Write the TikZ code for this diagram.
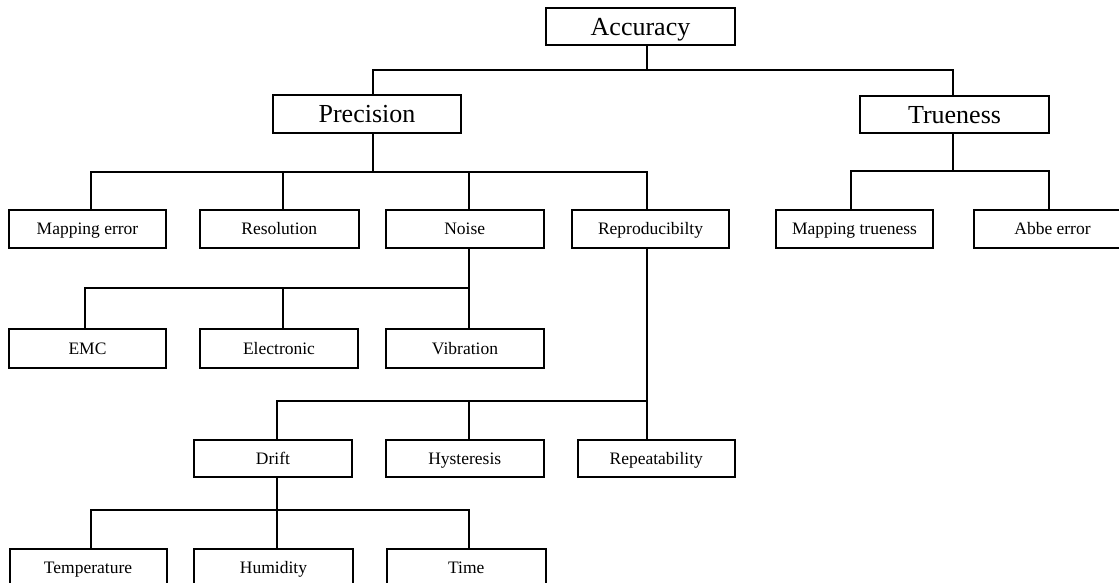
\documentclass[tikz,border=0pt]{standalone}
\usepackage{fontspec}
\setmainfont{Liberation Serif}
\begin{document}
\begin{tikzpicture}[x=1pt,y=-1pt,
  line width=2pt, line join=miter,
  box/.style={draw, line width=2pt, inner sep=0pt, anchor=north west, align=center, text depth=0pt},
  bigbox/.style={box, font=\fontsize{26}{30}\selectfont, text height=17.2pt},
  smallbox/.style={box, font=\fontsize{17.5}{20}\selectfont, minimum height=38, text height=11.6pt}]
\useasboundingbox (0,0) rectangle (1119,582);
% level 1-2
\node[bigbox, minimum width=189, minimum height=37] (acc) at (545,7) {Accuracy};
\node[bigbox, minimum width=188, minimum height=38] (prec) at (272,94) {Precision};
\node[bigbox, minimum width=189, minimum height=37] (true) at (859,95) {Trueness};
% level 3
\node[smallbox, minimum width=157] (map) at (8,209) {Mapping error};
\node[smallbox, minimum width=158.5] (res) at (199,209) {Resolution};
\node[smallbox, minimum width=158.5] (noise) at (384.5,209) {Noise};
\node[smallbox, minimum width=157] (repro) at (571,209) {Reproducibilty};
\node[smallbox, minimum width=157] (mapt) at (775,209) {Mapping trueness};
\node[smallbox, minimum width=157] (abbe) at (973,209) {Abbe error};
% noise children
\node[smallbox, minimum width=157, minimum height=39] (emc) at (8,328) {EMC};
\node[smallbox, minimum width=158, minimum height=39] (elec) at (199,328) {Electronic};
\node[smallbox, minimum width=158, minimum height=39] (vib) at (385,328) {Vibration};
% reproducibility children
\node[smallbox, minimum width=158, minimum height=36.5] (drift) at (193,439) {Drift};
\node[smallbox, minimum width=158.5, minimum height=36.5] (hyst) at (384.5,439) {Hysteresis};
\node[smallbox, minimum width=156.5, minimum height=36.5] (rept) at (577,439) {Repeatability};
% drift children
\node[smallbox, minimum width=157] (temp) at (8.5,548) {Temperature};
\node[smallbox, minimum width=159] (hum) at (193,548) {Humidity};
\node[smallbox, minimum width=159.5] (time) at (385.5,548) {Time};
% stem x positions and bar y positions
\coordinate (xA) at (647,0);
\coordinate (xP) at (373,0);
\coordinate (xT) at (953,0);
\coordinate (x91) at (91,0);
\coordinate (x85) at (85,0);
\coordinate (x283) at (283,0);
\coordinate (x469) at (469,0);
\coordinate (x277) at (277,0);
\coordinate (x851) at (851,0);
\coordinate (x1049) at (1049,0);
\coordinate (y1) at (0,69.5);
\coordinate (y2) at (0,171.5);
\coordinate (y2b) at (0,171);
\coordinate (y3) at (0,287.5);
\coordinate (y4) at (0,401);
\coordinate (y5) at (0,509.5);
% connectors
\draw (acc.south -| xA) -- (y1 -| xA);
\draw (prec.north -| xP) -- (y1 -| xP) -- (y1 -| xT) -- (true.north -| xT);
\draw (prec.south -| xP) -- (y2 -| xP);
\draw (map.north -| x91) -- (y2 -| x91) -- (y2 -| xA) -- (repro.north -| xA);
\draw (res.north -| x283) -- (y2 -| x283);
\draw (noise.north -| x469) -- (y2 -| x469);
\draw (true.south -| xT) -- (y2b -| xT);
\draw (mapt.north -| x851) -- (y2b -| x851) -- (y2b -| x1049) -- (abbe.north -| x1049);
\draw (noise.south -| x469) -- (vib.north -| x469);
\draw (emc.north -| x85) -- (y3 -| x85) -- (y3 -| x469);
\draw (elec.north -| x283) -- (y3 -| x283);
\draw (repro.south -| xA) -- (rept.north -| xA);
\draw (drift.north -| x277) -- (y4 -| x277) -- (y4 -| xA);
\draw (hyst.north -| x469) -- (y4 -| x469);
\draw (drift.south -| x277) -- (hum.north -| x277);
\draw (temp.north -| x91) -- (y5 -| x91) -- (y5 -| x469) -- (time.north -| x469);
\end{tikzpicture}
\end{document}
